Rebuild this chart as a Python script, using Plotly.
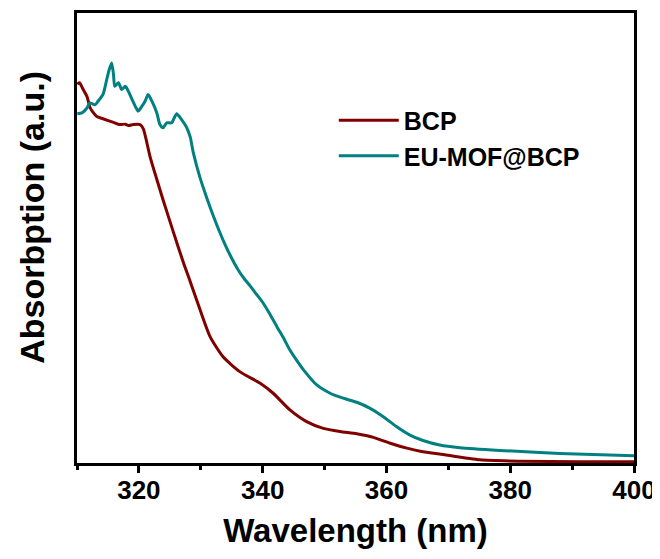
import plotly.graph_objects as go

# BCP spectrum (wavelength nm, absorbance a.u.)
bcp_wl = [310.05, 310.4, 311.0, 311.6, 312.1, 312.6, 313.2, 314.2, 315.9, 316.9, 317.8,
          318.3, 319.1, 320.2, 320.7, 321.1, 321.8, 322.9, 323.9, 325.6, 327.2, 328.3,
          329.9, 331.5, 333.6, 336.3, 339.6, 341.7, 344.4, 347.1, 349.8, 352.5, 355.2,
          357.9, 360.6, 363.3, 365.9, 368.6, 375.1, 381.6, 391.3, 400.0]
bcp_abs = [0.842, 0.845, 0.830, 0.815, 0.790, 0.779, 0.770, 0.765, 0.757, 0.752, 0.753,
           0.750, 0.752, 0.752, 0.743, 0.723, 0.681, 0.630, 0.585, 0.512, 0.445, 0.403,
           0.340, 0.281, 0.236, 0.203, 0.177, 0.155, 0.118, 0.092, 0.077, 0.070, 0.065,
           0.057, 0.044, 0.033, 0.025, 0.020, 0.007, 0.004, 0.003, 0.003]

# EU-MOF@BCP spectrum
mof_wl = [310.05, 310.8, 311.6, 312.1, 312.9, 313.4, 314.2, 314.8, 315.2, 315.6, 315.9,
          316.1, 316.7, 317.2, 317.8, 318.3, 318.8, 319.4, 319.9, 320.5, 321.0, 321.5,
          322.1, 322.9, 323.4, 323.9, 324.5, 325.3, 326.1, 326.9, 327.7, 328.3, 328.8,
          329.9, 331.0, 332.0, 333.0, 334.0, 335.0, 336.0, 337.0, 338.0, 339.0, 340.1,
          341.2, 342.3, 343.4, 344.4, 345.5, 346.6, 348.7, 350.9, 353.0, 355.2, 357.3,
          359.5, 361.6, 363.8, 365.9, 368.6, 371.9, 378.3, 388.0, 400.0]
mof_abs = [0.776, 0.778, 0.789, 0.800, 0.796, 0.804, 0.819, 0.852, 0.874, 0.889, 0.863,
           0.837, 0.845, 0.830, 0.837, 0.826, 0.811, 0.793, 0.782, 0.793, 0.804, 0.819,
           0.804, 0.778, 0.752, 0.745, 0.756, 0.756, 0.776, 0.763, 0.746, 0.724, 0.689,
           0.633, 0.588, 0.550, 0.515, 0.483, 0.455, 0.430, 0.410, 0.393, 0.375, 0.355,
           0.330, 0.303, 0.277, 0.251, 0.228, 0.207, 0.174, 0.155, 0.144, 0.135, 0.122,
           0.103, 0.081, 0.062, 0.050, 0.040, 0.034, 0.028, 0.021, 0.016]

x_ticks = [320, 340, 360, 380, 400]

FONT = "Liberation Sans, Arial, sans-serif"

fig = go.Figure()
fig.add_trace(go.Scatter(x=bcp_wl, y=bcp_abs, mode="lines", name="BCP",
                         line=dict(color="rgb(128,0,0)", width=3, shape="spline", smoothing=0.6)))
fig.add_trace(go.Scatter(x=mof_wl, y=mof_abs, mode="lines", name="EU-MOF@BCP",
                         line=dict(color="rgb(0,128,128)", width=3, shape="spline", smoothing=0.6)))

# page body adds an 8px offset, so the figure is sized 652x551
fig.update_layout(
    width=652, height=551,
    margin=dict(l=69, r=26, t=5, b=96),
    paper_bgcolor="white", plot_bgcolor="white",
    font=dict(family=FONT, color="black"),
    legend=dict(x=0.461, y=0.812, xanchor="left", yanchor="top",
                bgcolor="rgba(0,0,0,0)", font=dict(size=25, weight="bold", family=FONT),
                tracegroupgap=0, itemwidth=60),
    showlegend=True,
    annotations=[dict(text="Absorbption (a.u.)", textangle=-90, xref="paper", yref="paper",
                      x=-0.081, y=0.547, xanchor="center", yanchor="middle", showarrow=False,
                      font=dict(size=34, weight="bold", family=FONT, color="black"))],
)
fig.update_xaxes(
    range=[310, 400], tickvals=x_ticks, ticktext=[str(v) for v in x_ticks],
    showline=True, linecolor="black", linewidth=3, mirror=True,
    ticks="outside", ticklen=7, tickwidth=3, tickcolor="black",
    minor=dict(dtick=10, tick0=310, ticks="outside", ticklen=4, tickwidth=3, tickcolor="black"),
    tickfont=dict(size=26, weight="bold", family=FONT),
    ticklabelstandoff=-5,
    showgrid=False, zeroline=False, automargin=False,
    title=dict(text="Wavelength (nm)", font=dict(size=33, weight="bold", family=FONT), standoff=15),
)
fig.update_yaxes(
    range=[0, 1.0], showticklabels=False, ticks="",
    showline=True, linecolor="black", linewidth=3, mirror=True,
    showgrid=False, zeroline=False, automargin=False,
)

fig.write_html("out.html")
